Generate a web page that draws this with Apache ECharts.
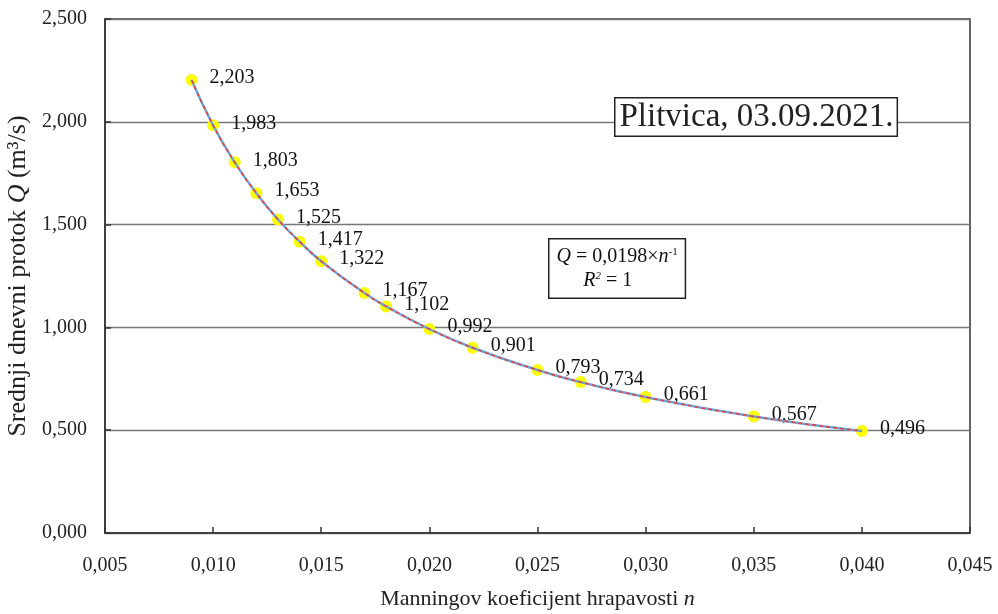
<!DOCTYPE html>
<html>
<head>
<meta charset="utf-8">
<script src="https://cdn.jsdelivr.net/npm/echarts@6/dist/echarts.min.js"></script>
<style>
html,body{margin:0;padding:0;background:#fff;}
#chart{width:998px;height:614px;}
</style>
</head>
<body>
<div id="chart"></div>
<script>
// Data
const manningN = [0.009, 0.010, 0.011, 0.012, 0.013, 0.014, 0.015, 0.017, 0.018, 0.020, 0.022, 0.025, 0.027, 0.030, 0.035, 0.040];
const flowQ = [2.203, 1.983, 1.803, 1.653, 1.525, 1.417, 1.322, 1.167, 1.102, 0.992, 0.901, 0.793, 0.734, 0.661, 0.567, 0.496];
const titleText = 'Plitvica, 03.09.2021.';
const xName = 'Manningov koeficijent hrapavosti ';
const yName = 'Srednji dnevni protok ';

const pts = manningN.map((n, i) => [n, flowQ[i]]);
const fmt = v => v.toFixed(3).replace('.', ',');
const FONT = '"Liberation Serif", "Times New Roman", serif';

const chart = echarts.init(document.getElementById('chart'));
chart.setOption({
  animation: false,
  backgroundColor: '#fff',
  textStyle: { fontFamily: FONT },
  grid: { left: 105, right: 28, top: 19, bottom: 81, containLabel: false, outerBoundsMode: 'none', show: true, borderColor: '#333', borderWidth: 1.5, backgroundColor: 'transparent' },
  xAxis: {
    type: 'value', min: 0.005, max: 0.045, interval: 0.005,
    name: xName + '{i|n}', nameLocation: 'middle', nameGap: 55,
    nameTextStyle: { fontFamily: FONT, fontSize: 22, color: '#222', rich: { i: { fontFamily: FONT, fontStyle: 'italic', fontSize: 22, color: '#222' } } },
    axisLine: { lineStyle: { color: '#333', width: 1.5 } },
    axisTick: { inside: true, length: 6, lineStyle: { color: '#333', width: 1.5 } },
    axisLabel: { formatter: v => fmt(v), fontFamily: FONT, fontSize: 20, color: '#222', margin: 23 },
    splitLine: { show: false }
  },
  yAxis: {
    type: 'value', min: 0, max: 2.5, interval: 0.5,
    name: yName + '{i|Q} (m³/s)', nameLocation: 'middle', nameGap: 73,
    nameTextStyle: { fontFamily: FONT, fontSize: 26, color: '#222', rich: { i: { fontFamily: FONT, fontStyle: 'italic', fontSize: 26, color: '#222' } } },
    axisLine: { lineStyle: { color: '#333', width: 1.5 } },
    axisTick: { inside: true, length: 6, lineStyle: { color: '#333', width: 1.5 } },
    axisLabel: { formatter: v => fmt(v), fontFamily: FONT, fontSize: 20, color: '#222', margin: 18 },
    splitLine: { lineStyle: { color: '#777', width: 1.3 } }
  },
  series: [
    {
      type: 'scatter', data: pts, symbolSize: 12, z: 2,
      itemStyle: { color: '#ffff00', opacity: 1 },
      label: {
        show: true, position: 'right', distance: 12, offset: [0, -2],
        formatter: p => fmt(p.value[1]),
        fontFamily: FONT, fontSize: 20, color: '#111'
      }
    },
    {
      type: 'line', data: pts, smooth: true, showSymbol: false, z: 3,
      lineStyle: { color: '#6fa8dc', width: 2.5 }
    },
    {
      type: 'line', data: pts, smooth: true, showSymbol: false, z: 4,
      lineStyle: { color: '#e8403a', width: 1.5, type: [4, 3] }
    }
  ],
  graphic: [
    {
      type: 'text', left: 614, top: 97, z: 10,
      style: {
        text: titleText, font: '33px ' + FONT, fill: '#222',
        backgroundColor: '#fff', borderColor: '#222', borderWidth: 1.5,
        padding: [2, 3, 2, 4]
      }
    },
    {
      type: 'text', left: 548, top: 238, z: 10,
      style: {
        rich: {
          i: { fontFamily: FONT, fontStyle: 'italic', fontSize: 20, fill: '#111' },
          t: { fontFamily: FONT, fontSize: 20, fill: '#111' },
          sup: { fontFamily: FONT, fontSize: 11, fill: '#111', padding: [0, 0, 9, 0] },
          isup: { fontFamily: FONT, fontStyle: 'italic', fontSize: 11, fill: '#111', padding: [0, 0, 9, 0] }
        },
        text: '{i|Q}{t| = 0,0198×}{i|n}{sup|-1}\n        {i|R}{isup|2}{t| = 1}',
        backgroundColor: '#fff', borderColor: '#222', borderWidth: 1.5,
        padding: [5, 7, 5, 7], lineHeight: 24
      }
    }
  ]
});
</script>
</body>
</html>
